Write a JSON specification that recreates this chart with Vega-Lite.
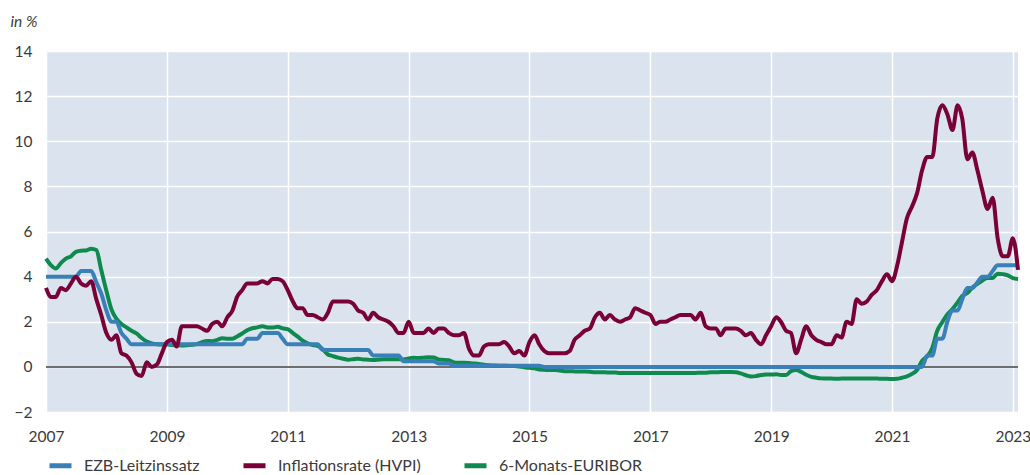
{
"$schema": "https://vega.github.io/schema/vega-lite/v6.json",
"width": 972, "height": 361,
"autosize": "none",
"padding": {"left": 46, "top": 51, "right": 12, "bottom": 63},
"background": "white",
"config": {
 "view": {"fill": "#dbe3ee", "stroke": null},
 "font": "Lato",
 "axis": {"labelFont": "Lato", "labelFontSize": 15.5, "labelColor": "#3a3a3a", "gridColor": "#ffffff", "gridWidth": 1.5, "gridOpacity": 1, "domain": false, "ticks": false}
},
"data": {"values": [
{"date":"2007-01","ezb":4,"hvpi":3.5,"euribor":4.8},
{"date":"2007-02","ezb":4,"hvpi":3.1,"euribor":4.5},
{"date":"2007-03","ezb":4,"hvpi":3.1,"euribor":4.36},
{"date":"2007-04","ezb":4,"hvpi":3.5,"euribor":4.6},
{"date":"2007-05","ezb":4,"hvpi":3.4,"euribor":4.8},
{"date":"2007-06","ezb":4,"hvpi":3.7,"euribor":4.9},
{"date":"2007-07","ezb":4,"hvpi":4.0,"euribor":5.1},
{"date":"2007-08","ezb":4.25,"hvpi":3.7,"euribor":5.15},
{"date":"2007-09","ezb":4.25,"hvpi":3.6,"euribor":5.16},
{"date":"2007-10","ezb":4.25,"hvpi":3.8,"euribor":5.24},
{"date":"2007-11","ezb":3.75,"hvpi":3.0,"euribor":5.18},
{"date":"2007-12","ezb":3.25,"hvpi":2.3,"euribor":4.29},
{"date":"2008-01","ezb":2.5,"hvpi":1.5,"euribor":3.37},
{"date":"2008-02","ezb":2.0,"hvpi":1.2,"euribor":2.54},
{"date":"2008-03","ezb":2.0,"hvpi":1.4,"euribor":2.14},
{"date":"2008-04","ezb":1.5,"hvpi":0.6,"euribor":1.9},
{"date":"2008-05","ezb":1.25,"hvpi":0.5,"euribor":1.75},
{"date":"2008-06","ezb":1,"hvpi":0.2,"euribor":1.6},
{"date":"2008-07","ezb":1,"hvpi":-0.3,"euribor":1.48},
{"date":"2008-08","ezb":1,"hvpi":-0.4,"euribor":1.28},
{"date":"2008-09","ezb":1,"hvpi":0.2,"euribor":1.12},
{"date":"2008-10","ezb":1,"hvpi":0.0,"euribor":1.04},
{"date":"2008-11","ezb":1,"hvpi":0.1,"euribor":1.0},
{"date":"2008-12","ezb":1,"hvpi":0.6,"euribor":0.99},
{"date":"2009-01","ezb":1,"hvpi":1.1,"euribor":1.0},
{"date":"2009-02","ezb":1,"hvpi":1.2,"euribor":0.97},
{"date":"2009-03","ezb":1,"hvpi":0.9,"euribor":0.96},
{"date":"2009-04","ezb":1,"hvpi":1.8,"euribor":0.95},
{"date":"2009-05","ezb":1,"hvpi":1.8,"euribor":0.96},
{"date":"2009-06","ezb":1,"hvpi":1.8,"euribor":0.98},
{"date":"2009-07","ezb":1,"hvpi":1.8,"euribor":1.01},
{"date":"2009-08","ezb":1,"hvpi":1.7,"euribor":1.1},
{"date":"2009-09","ezb":1,"hvpi":1.6,"euribor":1.15},
{"date":"2009-10","ezb":1,"hvpi":1.9,"euribor":1.14},
{"date":"2009-11","ezb":1,"hvpi":2.0,"euribor":1.2},
{"date":"2009-12","ezb":1,"hvpi":1.8,"euribor":1.27},
{"date":"2010-01","ezb":1,"hvpi":2.2,"euribor":1.25},
{"date":"2010-02","ezb":1,"hvpi":2.5,"euribor":1.25},
{"date":"2010-03","ezb":1,"hvpi":3.1,"euribor":1.35},
{"date":"2010-04","ezb":1,"hvpi":3.4,"euribor":1.48},
{"date":"2010-05","ezb":1.25,"hvpi":3.7,"euribor":1.62},
{"date":"2010-06","ezb":1.25,"hvpi":3.7,"euribor":1.71},
{"date":"2010-07","ezb":1.25,"hvpi":3.7,"euribor":1.75},
{"date":"2010-08","ezb":1.5,"hvpi":3.8,"euribor":1.8},
{"date":"2010-09","ezb":1.5,"hvpi":3.7,"euribor":1.75},
{"date":"2010-10","ezb":1.5,"hvpi":3.9,"euribor":1.74},
{"date":"2010-11","ezb":1.5,"hvpi":3.9,"euribor":1.78},
{"date":"2010-12","ezb":1.25,"hvpi":3.8,"euribor":1.71},
{"date":"2011-01","ezb":1,"hvpi":3.4,"euribor":1.67},
{"date":"2011-02","ezb":1,"hvpi":2.9,"euribor":1.5},
{"date":"2011-03","ezb":1,"hvpi":2.6,"euribor":1.35},
{"date":"2011-04","ezb":1,"hvpi":2.6,"euribor":1.16},
{"date":"2011-05","ezb":1,"hvpi":2.3,"euribor":1.04},
{"date":"2011-06","ezb":1,"hvpi":2.3,"euribor":0.97},
{"date":"2011-07","ezb":1,"hvpi":2.2,"euribor":0.93},
{"date":"2011-08","ezb":0.75,"hvpi":2.1,"euribor":0.78},
{"date":"2011-09","ezb":0.75,"hvpi":2.4,"euribor":0.55},
{"date":"2011-10","ezb":0.75,"hvpi":2.9,"euribor":0.48},
{"date":"2011-11","ezb":0.75,"hvpi":2.9,"euribor":0.41},
{"date":"2011-12","ezb":0.75,"hvpi":2.9,"euribor":0.36},
{"date":"2012-01","ezb":0.75,"hvpi":2.9,"euribor":0.32},
{"date":"2012-02","ezb":0.75,"hvpi":2.8,"euribor":0.34},
{"date":"2012-03","ezb":0.75,"hvpi":2.5,"euribor":0.36},
{"date":"2012-04","ezb":0.75,"hvpi":2.4,"euribor":0.33},
{"date":"2012-05","ezb":0.75,"hvpi":2.1,"euribor":0.32},
{"date":"2012-06","ezb":0.5,"hvpi":2.4,"euribor":0.3},
{"date":"2012-07","ezb":0.5,"hvpi":2.2,"euribor":0.32},
{"date":"2012-08","ezb":0.5,"hvpi":2.1,"euribor":0.34},
{"date":"2012-09","ezb":0.5,"hvpi":2.0,"euribor":0.34},
{"date":"2012-10","ezb":0.5,"hvpi":1.8,"euribor":0.34},
{"date":"2012-11","ezb":0.5,"hvpi":1.5,"euribor":0.34},
{"date":"2012-12","ezb":0.25,"hvpi":1.5,"euribor":0.33},
{"date":"2013-01","ezb":0.25,"hvpi":2.0,"euribor":0.37},
{"date":"2013-02","ezb":0.25,"hvpi":1.5,"euribor":0.4},
{"date":"2013-03","ezb":0.25,"hvpi":1.5,"euribor":0.39},
{"date":"2013-04","ezb":0.25,"hvpi":1.5,"euribor":0.41},
{"date":"2013-05","ezb":0.25,"hvpi":1.7,"euribor":0.43},
{"date":"2013-06","ezb":0.25,"hvpi":1.5,"euribor":0.42},
{"date":"2013-07","ezb":0.15,"hvpi":1.7,"euribor":0.33},
{"date":"2013-08","ezb":0.15,"hvpi":1.7,"euribor":0.31},
{"date":"2013-09","ezb":0.15,"hvpi":1.5,"euribor":0.29},
{"date":"2013-10","ezb":0.05,"hvpi":1.4,"euribor":0.2},
{"date":"2013-11","ezb":0.05,"hvpi":1.4,"euribor":0.18},
{"date":"2013-12","ezb":0.05,"hvpi":1.5,"euribor":0.18},
{"date":"2014-01","ezb":0.05,"hvpi":0.8,"euribor":0.17},
{"date":"2014-02","ezb":0.05,"hvpi":0.5,"euribor":0.15},
{"date":"2014-03","ezb":0.05,"hvpi":0.5,"euribor":0.13},
{"date":"2014-04","ezb":0.05,"hvpi":0.9,"euribor":0.1},
{"date":"2014-05","ezb":0.05,"hvpi":1.0,"euribor":0.07},
{"date":"2014-06","ezb":0.05,"hvpi":1.0,"euribor":0.06},
{"date":"2014-07","ezb":0.05,"hvpi":1.0,"euribor":0.05},
{"date":"2014-08","ezb":0.05,"hvpi":1.1,"euribor":0.05},
{"date":"2014-09","ezb":0.05,"hvpi":0.9,"euribor":0.04},
{"date":"2014-10","ezb":0.05,"hvpi":0.6,"euribor":0.04},
{"date":"2014-11","ezb":0.05,"hvpi":0.7,"euribor":0.02},
{"date":"2014-12","ezb":0.05,"hvpi":0.5,"euribor":-0.02},
{"date":"2015-01","ezb":0.05,"hvpi":1.1,"euribor":-0.04},
{"date":"2015-02","ezb":0.05,"hvpi":1.4,"euribor":-0.06},
{"date":"2015-03","ezb":0.05,"hvpi":1.0,"euribor":-0.12},
{"date":"2015-04","ezb":0,"hvpi":0.7,"euribor":-0.13},
{"date":"2015-05","ezb":0,"hvpi":0.6,"euribor":-0.14},
{"date":"2015-06","ezb":0,"hvpi":0.6,"euribor":-0.14},
{"date":"2015-07","ezb":0,"hvpi":0.6,"euribor":-0.16},
{"date":"2015-08","ezb":0,"hvpi":0.6,"euribor":-0.19},
{"date":"2015-09","ezb":0,"hvpi":0.7,"euribor":-0.19},
{"date":"2015-10","ezb":0,"hvpi":1.2,"euribor":-0.2},
{"date":"2015-11","ezb":0,"hvpi":1.4,"euribor":-0.21},
{"date":"2015-12","ezb":0,"hvpi":1.6,"euribor":-0.21},
{"date":"2016-01","ezb":0,"hvpi":1.7,"euribor":-0.22},
{"date":"2016-02","ezb":0,"hvpi":2.2,"euribor":-0.24},
{"date":"2016-03","ezb":0,"hvpi":2.4,"euribor":-0.24},
{"date":"2016-04","ezb":0,"hvpi":2.1,"euribor":-0.24},
{"date":"2016-05","ezb":0,"hvpi":2.3,"euribor":-0.25},
{"date":"2016-06","ezb":0,"hvpi":2.1,"euribor":-0.25},
{"date":"2016-07","ezb":0,"hvpi":2.0,"euribor":-0.27},
{"date":"2016-08","ezb":0,"hvpi":2.1,"euribor":-0.27},
{"date":"2016-09","ezb":0,"hvpi":2.2,"euribor":-0.27},
{"date":"2016-10","ezb":0,"hvpi":2.6,"euribor":-0.27},
{"date":"2016-11","ezb":0,"hvpi":2.5,"euribor":-0.27},
{"date":"2016-12","ezb":0,"hvpi":2.4,"euribor":-0.27},
{"date":"2017-01","ezb":0,"hvpi":2.3,"euribor":-0.27},
{"date":"2017-02","ezb":0,"hvpi":1.9,"euribor":-0.27},
{"date":"2017-03","ezb":0,"hvpi":2.0,"euribor":-0.27},
{"date":"2017-04","ezb":0,"hvpi":2.0,"euribor":-0.27},
{"date":"2017-05","ezb":0,"hvpi":2.1,"euribor":-0.27},
{"date":"2017-06","ezb":0,"hvpi":2.2,"euribor":-0.27},
{"date":"2017-07","ezb":0,"hvpi":2.3,"euribor":-0.27},
{"date":"2017-08","ezb":0,"hvpi":2.3,"euribor":-0.27},
{"date":"2017-09","ezb":0,"hvpi":2.3,"euribor":-0.27},
{"date":"2017-10","ezb":0,"hvpi":2.1,"euribor":-0.27},
{"date":"2017-11","ezb":0,"hvpi":2.4,"euribor":-0.26},
{"date":"2017-12","ezb":0,"hvpi":1.8,"euribor":-0.26},
{"date":"2018-01","ezb":0,"hvpi":1.7,"euribor":-0.24},
{"date":"2018-02","ezb":0,"hvpi":1.7,"euribor":-0.24},
{"date":"2018-03","ezb":0,"hvpi":1.4,"euribor":-0.23},
{"date":"2018-04","ezb":0,"hvpi":1.7,"euribor":-0.23},
{"date":"2018-05","ezb":0,"hvpi":1.7,"euribor":-0.23},
{"date":"2018-06","ezb":0,"hvpi":1.7,"euribor":-0.24},
{"date":"2018-07","ezb":0,"hvpi":1.6,"euribor":-0.29},
{"date":"2018-08","ezb":0,"hvpi":1.4,"euribor":-0.37},
{"date":"2018-09","ezb":0,"hvpi":1.5,"euribor":-0.43},
{"date":"2018-10","ezb":0,"hvpi":1.2,"euribor":-0.41},
{"date":"2018-11","ezb":0,"hvpi":1.0,"euribor":-0.36},
{"date":"2018-12","ezb":0,"hvpi":1.4,"euribor":-0.34},
{"date":"2019-01","ezb":0,"hvpi":1.8,"euribor":-0.34},
{"date":"2019-02","ezb":0,"hvpi":2.2,"euribor":-0.33},
{"date":"2019-03","ezb":0,"hvpi":2.0,"euribor":-0.36},
{"date":"2019-04","ezb":0,"hvpi":1.6,"euribor":-0.36},
{"date":"2019-05","ezb":0,"hvpi":1.5,"euribor":-0.19},
{"date":"2019-06","ezb":0,"hvpi":0.6,"euribor":-0.14},
{"date":"2019-07","ezb":0,"hvpi":1.2,"euribor":-0.22},
{"date":"2019-08","ezb":0,"hvpi":1.8,"euribor":-0.35},
{"date":"2019-09","ezb":0,"hvpi":1.4,"euribor":-0.44},
{"date":"2019-10","ezb":0,"hvpi":1.2,"euribor":-0.48},
{"date":"2019-11","ezb":0,"hvpi":1.1,"euribor":-0.51},
{"date":"2019-12","ezb":0,"hvpi":1.0,"euribor":-0.52},
{"date":"2020-01","ezb":0,"hvpi":1.0,"euribor":-0.52},
{"date":"2020-02","ezb":0,"hvpi":1.4,"euribor":-0.53},
{"date":"2020-03","ezb":0,"hvpi":1.3,"euribor":-0.52},
{"date":"2020-04","ezb":0,"hvpi":2.0,"euribor":-0.52},
{"date":"2020-05","ezb":0,"hvpi":1.9,"euribor":-0.52},
{"date":"2020-06","ezb":0,"hvpi":3.0,"euribor":-0.51},
{"date":"2020-07","ezb":0,"hvpi":2.8,"euribor":-0.51},
{"date":"2020-08","ezb":0,"hvpi":2.9,"euribor":-0.51},
{"date":"2020-09","ezb":0,"hvpi":3.2,"euribor":-0.52},
{"date":"2020-10","ezb":0,"hvpi":3.4,"euribor":-0.52},
{"date":"2020-11","ezb":0,"hvpi":3.8,"euribor":-0.53},
{"date":"2020-12","ezb":0,"hvpi":4.1,"euribor":-0.53},
{"date":"2021-01","ezb":0,"hvpi":3.8,"euribor":-0.54},
{"date":"2021-02","ezb":0,"hvpi":4.5,"euribor":-0.53},
{"date":"2021-03","ezb":0,"hvpi":5.5,"euribor":-0.48},
{"date":"2021-04","ezb":0,"hvpi":6.6,"euribor":-0.42},
{"date":"2021-05","ezb":0,"hvpi":7.1,"euribor":-0.31},
{"date":"2021-06","ezb":0,"hvpi":7.7,"euribor":-0.14},
{"date":"2021-07","ezb":0,"hvpi":8.7,"euribor":0.26},
{"date":"2021-08","ezb":0.5,"hvpi":9.3,"euribor":0.47},
{"date":"2021-09","ezb":0.5,"hvpi":9.3,"euribor":0.84},
{"date":"2021-10","ezb":1.25,"hvpi":11.0,"euribor":1.6},
{"date":"2021-11","ezb":1.25,"hvpi":11.6,"euribor":1.99},
{"date":"2021-12","ezb":2.0,"hvpi":11.2,"euribor":2.32},
{"date":"2022-01","ezb":2.5,"hvpi":10.5,"euribor":2.56},
{"date":"2022-02","ezb":2.5,"hvpi":11.6,"euribor":2.86},
{"date":"2022-03","ezb":3.0,"hvpi":11.0,"euribor":3.14},
{"date":"2022-04","ezb":3.5,"hvpi":9.2,"euribor":3.27},
{"date":"2022-05","ezb":3.5,"hvpi":9.5,"euribor":3.52},
{"date":"2022-06","ezb":3.75,"hvpi":8.7,"euribor":3.68},
{"date":"2022-07","ezb":4.0,"hvpi":7.8,"euribor":3.83},
{"date":"2022-08","ezb":4.0,"hvpi":7.0,"euribor":3.94},
{"date":"2022-09","ezb":4.25,"hvpi":7.5,"euribor":3.94},
{"date":"2022-10","ezb":4.5,"hvpi":5.7,"euribor":4.13},
{"date":"2022-11","ezb":4.5,"hvpi":4.9,"euribor":4.11},
{"date":"2022-12","ezb":4.5,"hvpi":4.9,"euribor":4.06},
{"date":"2023-01","ezb":4.5,"hvpi":5.7,"euribor":3.93},
{"date":"2023-02","ezb":4.5,"hvpi":4.3,"euribor":3.89}
]},
"transform": [{"fold": ["euribor", "ezb", "hvpi"], "as": ["series", "value"]}],
"layer": [
 {
  "data": {"values": [{}]},
  "mark": {"type": "rule", "color": "#6e6e6e", "strokeWidth": 2},
  "encoding": {"y": {"datum": 0, "type": "quantitative"}}
 },
 {
  "mark": {"type": "line", "strokeWidth": 4, "interpolate": "monotone"},
  "encoding": {
   "x": {"field": "date", "type": "temporal",
     "scale": {"type": "utc", "domain": [{"year": 2007, "month": 1, "date": 1, "utc": true}, {"year": 2023, "month": 2, "date": 1, "utc": true}]},
     "axis": {"title": null, "format": "%Y", "labelFlush": false, "labelBound": false, "labelPadding": 17, "labelOverlap": false, "grid": true,
       "values": [{"year": 2007, "month": 1, "date": 1, "utc": true}, {"year": 2009, "month": 1, "date": 1, "utc": true}, {"year": 2011, "month": 1, "date": 1, "utc": true}, {"year": 2013, "month": 1, "date": 1, "utc": true}, {"year": 2015, "month": 1, "date": 1, "utc": true}, {"year": 2017, "month": 1, "date": 1, "utc": true}, {"year": 2019, "month": 1, "date": 1, "utc": true}, {"year": 2021, "month": 1, "date": 1, "utc": true}, {"year": 2023, "month": 1, "date": 1, "utc": true}]}},
   "y": {"field": "value", "type": "quantitative",
     "scale": {"domain": [-2, 14], "nice": false, "zero": false},
     "axis": {"values": [-2, 0, 2, 4, 6, 8, 10, 12, 14], "labelPadding": 14, "grid": true,
       "title": "in %", "titleAngle": 0, "titleAlign": "left", "titleBaseline": "alphabetic", "titleX": -36, "titleY": -25,
       "titleFont": "Lato", "titleFontStyle": "italic", "titleFontWeight": "normal", "titleFontSize": 15.5, "titleColor": "#3a3a3a"}},
   "color": {"field": "series", "type": "nominal",
     "scale": {"domain": ["ezb", "hvpi", "euribor"], "range": ["#3a80b8", "#7a0038", "#0f8a4f"]},
     "legend": {"title": null, "orient": "none", "legendX": 1, "legendY": 401, "direction": "horizontal",
       "symbolType": "stroke", "symbolStrokeWidth": 5, "symbolSize": 484, "labelOffset": 10, "columnPadding": 33,
       "labelFont": "Lato", "labelFontSize": 16, "labelColor": "#3a3a3a",
       "labelExpr": "datum.label == 'ezb' ? 'EZB-Leitzinssatz' : datum.label == 'hvpi' ? 'Inflationsrate (HVPI)' : '6-Monats-EURIBOR'"}}
  }
 }
]
}
